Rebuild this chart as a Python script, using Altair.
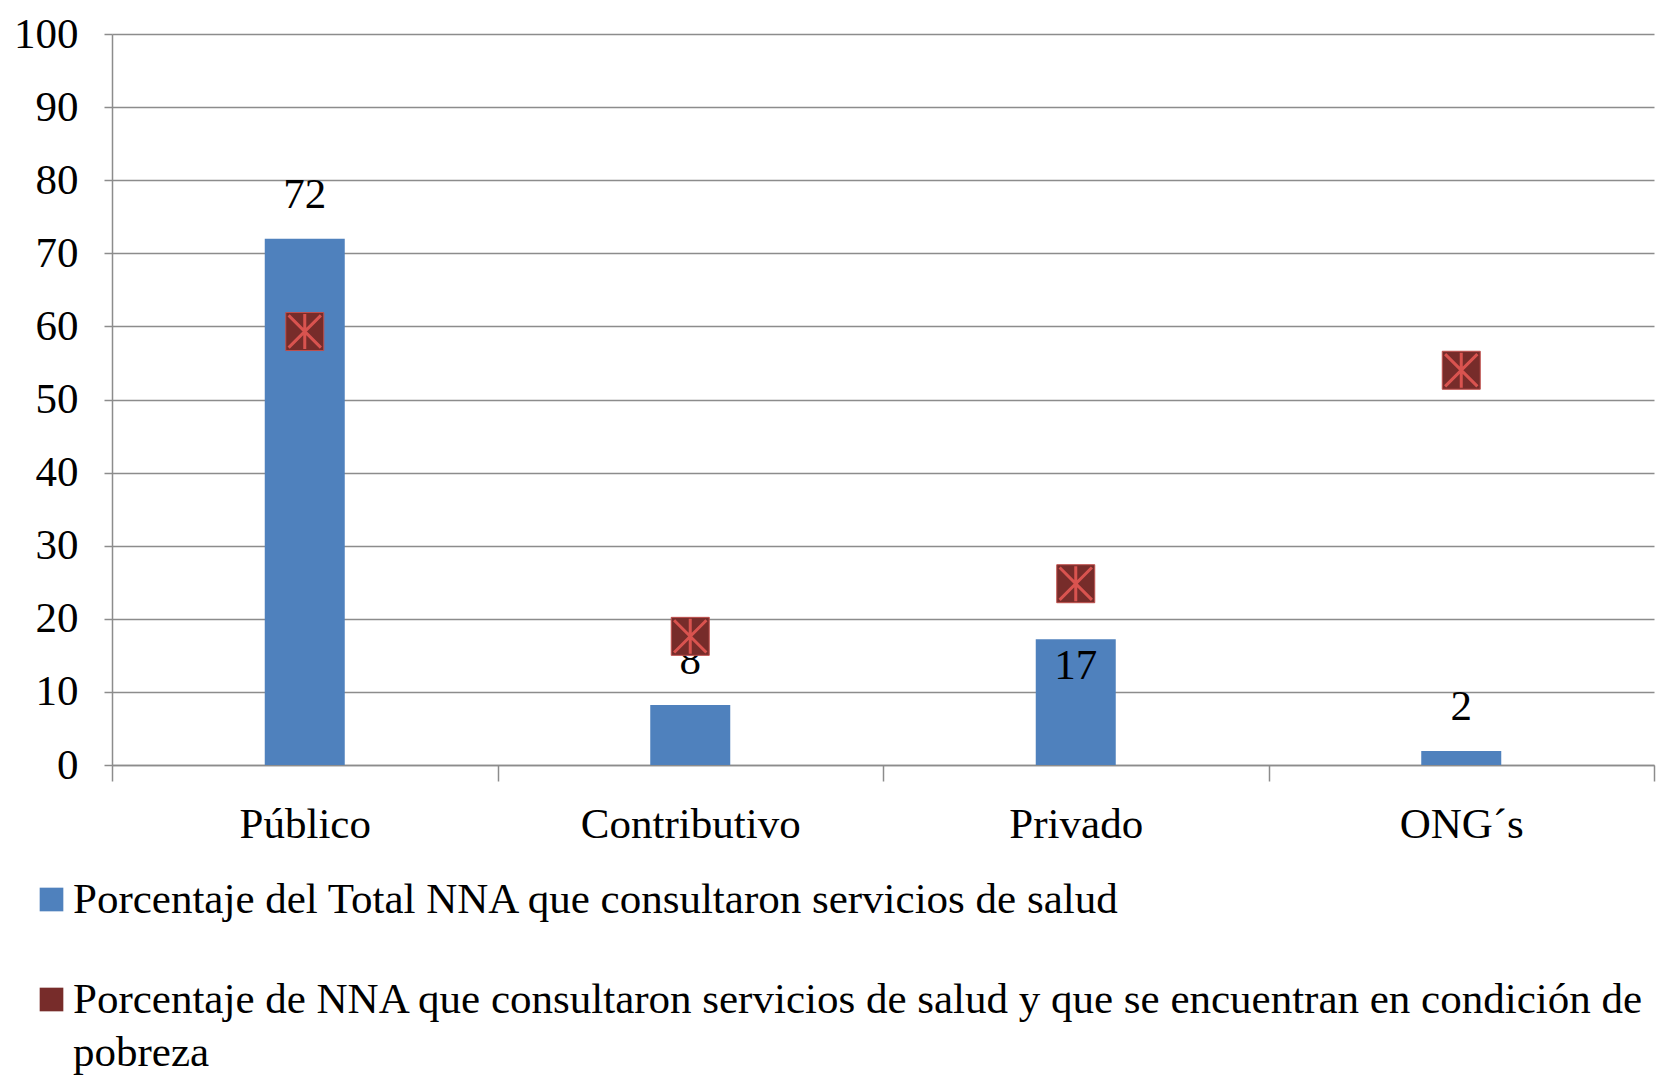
import altair as alt
import pandas as pd

categorias = ["Público", "Contributivo", "Privado", "ONG´s"]
total_nna = [72, 8.2, 17.2, 1.9]
etiquetas = ["72", "8", "17", "2"]
pobreza_nna = [59.3, 17.6, 24.8, 54.0]
serie_barras = "Porcentaje del Total NNA que consultaron servicios de salud"
serie_puntos = "Porcentaje de NNA que consultaron servicios de salud y que se encuentran en condición de pobreza"

df_bar = pd.DataFrame({"categoria": categorias, "valor": total_nna,
                       "etiqueta": etiquetas, "serie": serie_barras})
df_pt = pd.DataFrame({"categoria": categorias, "valor": pobreza_nna,
                      "serie": serie_puntos})

W, H = 1542, 731
FONT = "Liberation Serif"
GRID = "#8c8c8c"

x_enc = alt.X("categoria:N", sort=categorias,
              scale=alt.Scale(paddingInner=0, paddingOuter=0),
              axis=alt.Axis(title=None, labelAngle=0, tickBand="extent",
                            tickSize=16, tickColor=GRID, domainColor=GRID,
                            tickWidth=1.5, domainWidth=1.5,
                            labelFont=FONT, labelFontSize=43, labelColor="black",
                            labelPadding=22, labelLimit=1000, grid=False))
y_scale = alt.Scale(domain=[0, 100], nice=False)

bars = alt.Chart(df_bar).mark_bar(size=80).encode(
    x=x_enc,
    y=alt.Y("valor:Q", scale=y_scale,
            axis=alt.Axis(title=None, values=list(range(0, 101, 10)),
                          grid=True, gridColor=GRID, gridWidth=1.5,
                          domainColor=GRID, domainWidth=1.5,
                          tickColor=GRID, tickWidth=1.5, tickSize=8,
                          labelFont=FONT, labelFontSize=43, labelColor="black",
                          labelPadding=26)),
    color=alt.Color("serie:N",
                    scale=alt.Scale(domain=[serie_barras, serie_puntos],
                                    range=["#4F81BD", "#772C2A"]),
                    legend=alt.Legend(title=None, orient="none", direction="vertical",
                                      legendX=-82, legendY=844,
                                      symbolType="square", symbolSize=560,
                                      labelFont=FONT, labelFontSize=43,
                                      labelColor="black", labelLimit=2000,
                                      labelOffset=0, rowPadding=56,
                                      labelExpr=("datum.label == '" + serie_puntos + "' ? "
                                                 "['Porcentaje de NNA que consultaron servicios de salud y que se encuentran en condición de', 'pobreza'] : datum.label"))),
)

labels_main = alt.Chart(df_bar).transform_filter(
    alt.datum.categoria != "Privado"
).mark_text(font=FONT, fontSize=43, baseline="middle", dy=-44, color="black").encode(
    x=alt.X("categoria:N", sort=categorias), y=alt.Y("valor:Q", scale=y_scale),
    text="etiqueta:N")

labels_in = alt.Chart(df_bar).transform_filter(
    alt.datum.categoria == "Privado"
).mark_text(font=FONT, fontSize=43, baseline="middle", dy=27, color="black").encode(
    x=alt.X("categoria:N", sort=categorias), y=alt.Y("valor:Q", scale=y_scale),
    text="etiqueta:N")

squares = alt.Chart(df_pt).mark_point(shape="square", filled=True, size=1444,
                                      fill="#772C2A", stroke="#C0504D",
                                      strokeWidth=1, opacity=1).encode(
    x=alt.X("categoria:N", sort=categorias), y=alt.Y("valor:Q", scale=y_scale))

stars = alt.Chart(df_pt).mark_point(
    shape="M-0.85,-0.85L0.85,0.85M0.85,-0.85L-0.85,0.85M0,-0.92L0,0.92",
    filled=False, size=1444, stroke="#D9534F", strokeWidth=3, opacity=1).encode(
    x=alt.X("categoria:N", sort=categorias), y=alt.Y("valor:Q", scale=y_scale))

chart = alt.layer(bars, labels_main, labels_in, squares, stars).properties(
    width=W, height=H,
    autosize="none",
    padding={"left": 104, "top": 26, "right": 5, "bottom": 312},
).configure(style={"guide-label": {"lineHeight": 53}}).configure_view(stroke=None)

chart.save("out.html", embed_options={"renderer": "svg", "actions": False})
